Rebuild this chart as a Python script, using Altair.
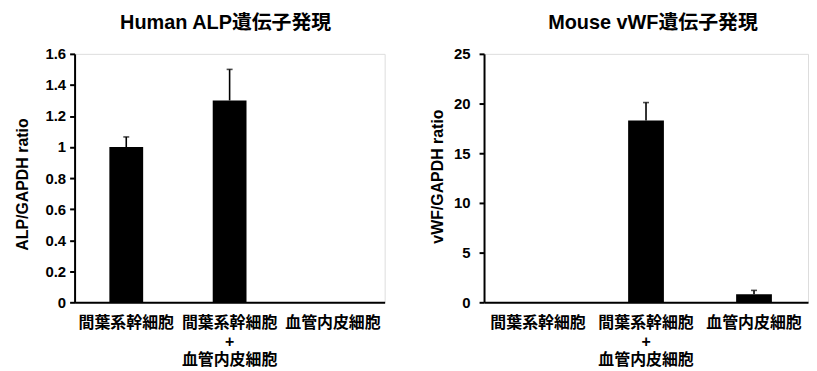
import altair as alt
import pandas as pd

# ---- data ----
categories = ["間葉系幹細胞", "間葉系幹細胞\n+\n血管内皮細胞", "血管内皮細胞"]

alp_values = [1.0, 1.3, 0.0]
alp_errors = [0.065, 0.2, 0.0]
alp_ticks = [0, 0.2, 0.4, 0.6, 0.8, 1.0, 1.2, 1.4, 1.6]

vwf_values = [0.0, 18.3, 0.8]
vwf_errors = [0.0, 1.8, 0.4]
vwf_ticks = [0, 5, 10, 15, 20, 25]

FONT = "Liberation Sans, Arial, Noto Sans CJK JP"


def panel(values, errors, title, ytitle, domain, ticks, width, bar_size,
          title_y, label_pad, title_pad, title_dx):
    df = pd.DataFrame({"cat": categories, "val": values, "err": errors})
    df["top"] = df["val"] + df["err"]

    x_axis = alt.Axis(
        title=None, labelAngle=0, ticks=False,
        labelExpr="split(datum.label, '\\n')",
        labelFont=FONT, labelFontSize=16, labelFontWeight="bold",
        labelColor="black", labelPadding=12, labelLineHeight=19,
        domainColor="black", domainWidth=2,
    )
    x = alt.X("cat:N", sort=categories,
              scale=alt.Scale(paddingInner=0, paddingOuter=0), axis=x_axis)
    y = alt.Y(
        "val:Q",
        scale=alt.Scale(domain=domain, nice=False, zero=True),
        axis=alt.Axis(
            values=ticks, tickCount=len(ticks), format="~g", title=ytitle,
            grid=False, labelOverlap=False,
            labelFont=FONT, labelFontSize=15, labelFontWeight="bold",
            labelColor="black", labelPadding=label_pad,
            tickSize=5, tickWidth=2, tickColor="black",
            domainColor="black", domainWidth=2,
            titleFont=FONT, titleFontSize=16, titleFontWeight="bold",
            titleColor="black", titleY=title_y, titlePadding=title_pad,
        ),
    )
    base = alt.Chart(df)
    bars = base.mark_bar(size=bar_size, color="black").encode(x=x, y=y)
    whisk = base.transform_filter("datum.err > 0").mark_rule(
        color="black", strokeWidth=1.6
    ).encode(x=alt.X("cat:N", sort=categories), y="val:Q", y2="top:Q")
    cap = base.transform_filter("datum.err > 0").mark_tick(
        color="black", thickness=1.6, size=6
    ).encode(x=alt.X("cat:N", sort=categories), y="top:Q")
    return alt.layer(bars, whisk, cap).properties(
        width=width, height=250,
        title=alt.Title(title, font=FONT, fontSize=20, fontWeight="bold",
                        color="black", offset=14, dx=title_dx),
    )


left = panel(alp_values, alp_errors, "Human ALP遺伝子発現", "ALP/GAPDH ratio",
             [0, 1.6], alp_ticks, 312, 34, 131, 4, 15, -4)
right = panel(vwf_values, vwf_errors, "Mouse vWF遺伝子発現", "vWF/GAPDH ratio",
              [0, 25], vwf_ticks, 326, 36, 123, 9, 8, 7)

chart = alt.hconcat(left, right, spacing=43).properties(
    padding={"left": 5, "top": 3, "right": 0, "bottom": 5}
).configure_view(stroke=None).configure(background="white")

chart.save("out.html", embed_options={"renderer": "svg", "actions": False})
